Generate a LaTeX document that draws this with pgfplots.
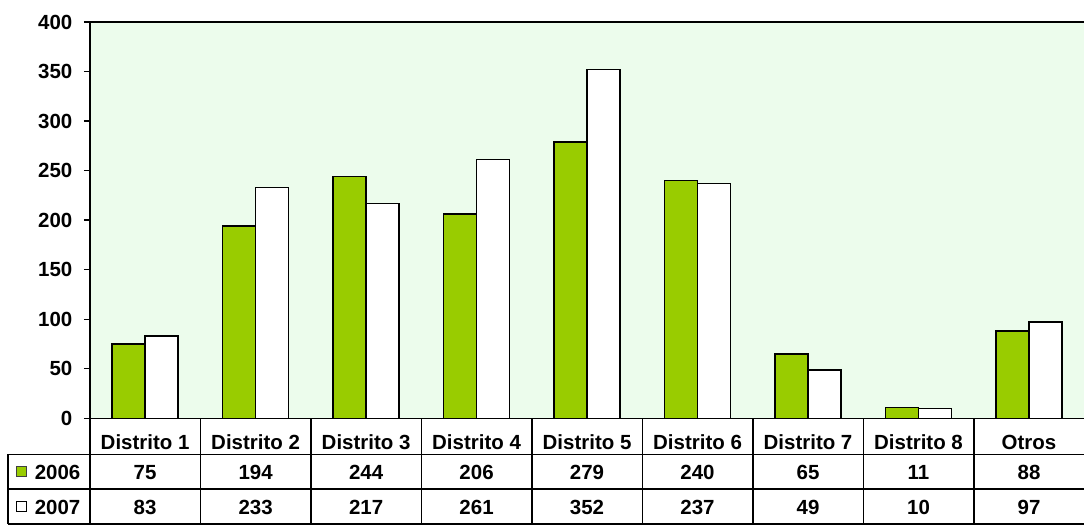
\documentclass[border=0pt]{standalone}
\usepackage{fontspec}
\setmainfont{Liberation Sans}
\usepackage{pgfplots}
\usepackage{pgfplotstable}
\pgfplotsset{compat=1.18}
\definecolor{barg}{RGB}{153,204,0}
\definecolor{bgg}{RGB}{236,252,236}
\pgfplotstableread{
x a b
0 75 83
1 194 233
2 244 217
3 206 261
4 279 352
5 240 237
6 65 49
7 11 10
8 88 97
}\data
\begin{document}
\begin{tikzpicture}[font=\fontsize{20.5}{24}\selectfont\bfseries]
\begin{axis}[
  scale only axis, width=996pt, height=397pt,
  xmin=-0.5, xmax=8.5, ymin=0, ymax=400,
  axis x line*=box, axis y line*=left,
  ytick={0,50,...,400},
  ytick pos=left,
  yticklabel style={xshift=-8pt},
  xtick={0,...,8},
  xticklabels={Distrito 1,Distrito 2,Distrito 3,Distrito 4,Distrito 5,Distrito 6,Distrito 7,Distrito 8,Otros},
  xticklabel style={anchor=base, yshift=-25.4pt},
  x tick style={draw=none},
  y tick style={black, line width=1.4pt},
  tick align=outside, major tick length=6pt,
  axis background/.style={fill=bgg},
  axis line style={black, line width=1.5pt, -},
  clip=false,
  /pgf/number format/assume math mode=true,
]
\addplot[ybar, bar width=0.3, bar shift=-0.15, fill=barg, draw=black, line width=1.5pt] table[x=x,y=a]{\data};
\addplot[ybar, bar width=0.3, bar shift=0.15, fill=white, draw=black, line width=1.5pt] table[x=x,y=b]{\data};
\addplot[only marks, mark=*, mark size=0pt, mark options={draw=none,fill=none},
  nodes near coords, point meta=explicit, every node near coord/.style={anchor=base, yshift=-7.4pt, black}]
  table[x=x, y expr=-53.9, meta=a]{\data};
\addplot[only marks, mark=*, mark size=0pt, mark options={draw=none,fill=none},
  nodes near coords, point meta=explicit, every node near coord/.style={anchor=base, yshift=-7.4pt, black}]
  table[x=x, y expr=-89.4, meta=b]{\data};
\pgfplotsinvokeforeach{-0.5,0.5,1.5,2.5,3.5,4.5,5.5,6.5,7.5}{
  \draw[line width=1.5pt] (axis cs:#1,0) -- (axis cs:#1,-106.8);
}
\draw[line width=1.5pt] (axis cs:-1.243,-36.3) -- (axis cs:8.5,-36.3);
\draw[line width=1.5pt] (axis cs:-1.243,-71.5) -- (axis cs:8.5,-71.5);
\draw[line width=1.5pt] (axis cs:-1.243,-106.8) -- (axis cs:8.5,-106.8);
\draw[line width=1.5pt] (axis cs:-1.243,-36.3) -- (axis cs:-1.243,-106.8);
\node[draw=black!75, fill=barg, minimum size=10pt, inner sep=0pt, line width=1.2pt] at (axis cs:-1.116,-53.9) {};
\node[draw=black, fill=white, minimum size=10pt, inner sep=0pt, line width=1pt] at (axis cs:-1.116,-89.4) {};
\node[anchor=base west, inner sep=0pt, yshift=-7.4pt] at (axis cs:-1.0,-53.9) {2006};
\node[anchor=base west, inner sep=0pt, yshift=-7.4pt] at (axis cs:-1.0,-89.4) {2007};
\end{axis}
\path (current axis.south west) ++(-90pt,-107pt) coordinate (a);
\path (current axis.north east) ++(-1pt,22pt) coordinate (b);
\path (a) rectangle (b);
\end{tikzpicture}
\end{document}
